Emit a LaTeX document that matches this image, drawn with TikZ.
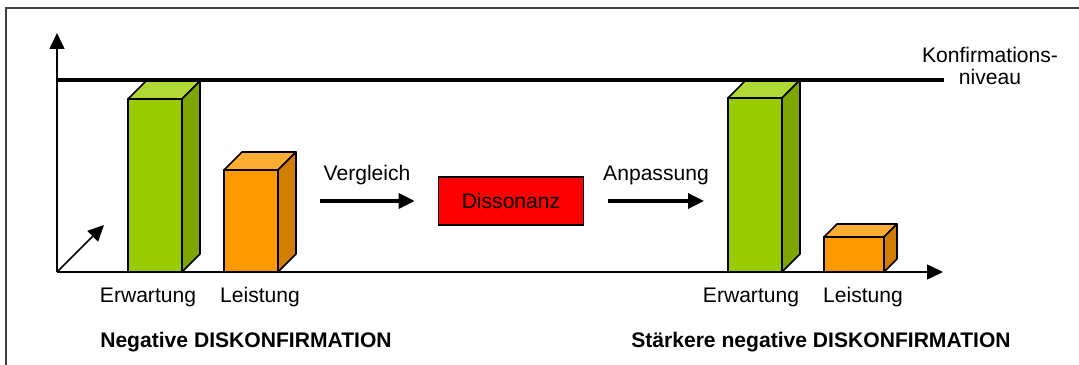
\documentclass[tikz,border=0pt]{standalone}
\usepackage{fontspec}
\setmainfont{Liberation Sans}
\usetikzlibrary{arrows.meta}

\definecolor{gruenfront}{HTML}{99CC00}
\definecolor{gruentop}{HTML}{B0D835}
\definecolor{gruenside}{HTML}{7FA600}
\definecolor{orangefront}{HTML}{FF9900}
\definecolor{orangetop}{HTML}{FFAD33}
\definecolor{orangeside}{HTML}{D17D00}
\definecolor{dissrot}{HTML}{FF0000}

% Quader: linke x, obere y, Breite, Tiefe, Farbe
\newcommand{\quader}[5]{%
  \filldraw[saeule,fill=#5front] (#1,272) rectangle (#1+#3,#2);
  \filldraw[saeule,fill=#5top] (#1,#2) -- ++(#4,-#4) -- ++(#3,0) -- (#1+#3,#2) -- cycle;
  \filldraw[saeule,fill=#5side] (#1+#3,#2) -- ++(#4,-#4) -- (#1+#3+#4,272-#4) -- (#1+#3,272) -- cycle;
}

\begin{document}
\begin{tikzpicture}[x=0.025cm,y=-0.025cm,>={Triangle[length=0.4cm,width=0.375cm]},
	schrift/.style={font=\fontsize{15}{15}\selectfont},
	fett/.style={font=\fontsize{15}{15}\selectfont\bfseries},
	saeule/.style={line width=1.1pt,line join=round},
	achse/.style={line width=1.1pt,->},
	pfeil/.style={line width=2.4pt,->}]
	\useasboundingbox (0,0) rectangle (1079,365);
	% Rahmen
	\draw[line width=1.2pt,black!75] (6,365) -- (6,8) -- (1079,8);
	% Achsen
	\coordinate (O) at (57,272);
	\coordinate (ytop) at (57,33);
	\coordinate (xend) at (943,272);
	\coordinate (ztop) at (104,225);
	\draw[achse] (O) -- (ytop);
	\draw[achse] (O) -- (ztop);
	% Saeulen
	\quader{128}{99}{54}{18}{gruen}
	\quader{224}{170}{54}{18}{orange}
	\quader{728}{98}{54}{18}{gruen}
	\quader{824}{237}{60}{13}{orange}
	\draw[achse] (O) -- (xend);
	% Konfirmationsniveau
	\coordinate (k1) at (57,80);
	\coordinate (k2) at (944,80);
	\draw[line width=3.4pt] (k1) -- (k2);
	\node[schrift,align=center] (kniveau) at (990,66) {Konfirmations-\\niveau};
	% Dissonanz
	\node[schrift,draw,fill=dissrot,line width=1.1pt,inner sep=0pt,
		minimum width=3.625cm,minimum height=1.2cm] (diss) at (511,201) {Dissonanz};
	\coordinate (vgl) at (320,201);
	\coordinate (anp) at (704,201);
	\draw[pfeil,shorten >=0.575cm] (vgl) -- (diss);
	\draw[pfeil,shorten <=0.6cm] (diss) -- (anp);
	\node[schrift] (vgltext) at (367,175) {Vergleich};
	\node[schrift] (anptext) at (656,175) {Anpassung};
	% Beschriftung
	\node[schrift] (erw1) at (148,297) {Erwartung};
	\node[schrift] (lei1) at (260,297) {Leistung};
	\node[schrift] (erw2) at (751,297) {Erwartung};
	\node[schrift] (lei2) at (863,297) {Leistung};
	\node[fett,anchor=west,inner sep=0pt] (neg1) at (100,342) {Negative DISKONFIRMATION};
	\node[fett,anchor=west,inner sep=0pt] (neg2) at (631,342) {Stärkere negative DISKONFIRMATION};
\end{tikzpicture}
\end{document}
